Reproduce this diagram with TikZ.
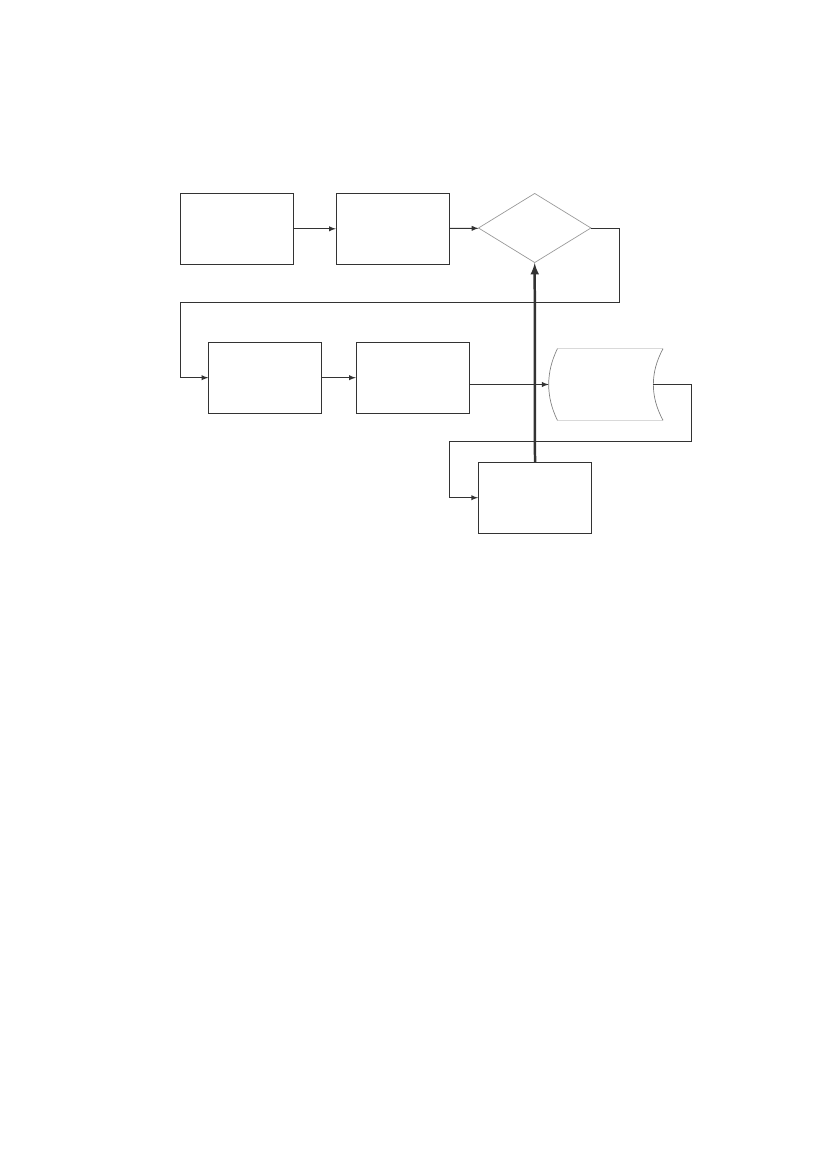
\documentclass[tikz,border=0pt]{standalone}
\usepackage{tikz}
\usetikzlibrary{arrows,positioning,shapes.geometric}

\begin{document}
\begin{tikzpicture}[
        x=0.7207pt, y=-0.7207pt,
        box/.style={rectangle, draw=black!80, line width=0.7pt, minimum width=81.4pt, minimum height=51pt, inner sep=0pt},
        decision/.style={diamond, draw=black!40, line width=0.5pt, minimum width=81.2pt, minimum height=50pt, inner sep=0pt},
        store/.style={rectangle, draw=none, minimum width=75pt, minimum height=51.2pt, inner sep=0pt},
        arrow/.style={-latex, line width=0.7pt, draw=black!80},
        bigarrow/.style={-latex, line width=1.8pt, draw=black!80}
    ]
    \useasboundingbox (0,0) rectangle (826,1169);

    % Top row
    \node[box] (input) at (237,228.8) {};
    \node[box] (prepare) at (392.8,228.8) {};
    \node[decision] (check) at (534.7,228) {};

    % Middle row
    \node[box] (process) at (265.3,377.7) {};
    \node[box] (output) at (412.8,377.7) {};
    \node[store] (data) at (601,384.5) {};

    % Bottom
    \node[box] (update) at (535,497.7) {};

    % Stored data outline
    \draw[black!15, line width=0.9pt] ([xshift=8.7*0.7207pt]data.north west) -- ([xshift=9.7*0.7207pt]data.north east);
    \draw[black!15, line width=0.9pt] ([xshift=8.7*0.7207pt]data.south west) -- ([xshift=9.7*0.7207pt]data.south east);
    \draw[black!50, line width=0.5pt] ([xshift=8.7*0.7207pt]data.north west) .. controls +(-11.6,23.7) and +(-11.6,-23.7) .. ([xshift=8.7*0.7207pt]data.south west);
    \draw[black!50, line width=0.5pt] ([xshift=9.7*0.7207pt]data.north east) .. controls +(-12.9,23.7) and +(-12.9,-23.7) .. ([xshift=9.7*0.7207pt]data.south east);

    % Route points
    \coordinate (loop1a) at (619.7,302.3);
    \coordinate (loop1b) at (180.3,302.3);
    \coordinate (loop2a) at (691.3,441);
    \coordinate (loop2b) at (449.3,441);

    % Connections
    \draw[arrow] (input) -- (prepare);
    \draw[arrow] (prepare) -- (check);
    \draw[arrow] (check.east) -| (loop1a) -- (loop1b) |- (process.west);
    \draw[arrow] (process) -- (output);
    \draw[arrow] (output.east |- data.west) -- (data.west);
    \draw[arrow] (data.east) -| (loop2a) -- (loop2b) |- (update.west);

    % Feedback
    \draw[bigarrow] (update.north) -- (check.south);

\end{tikzpicture}
\end{document}
